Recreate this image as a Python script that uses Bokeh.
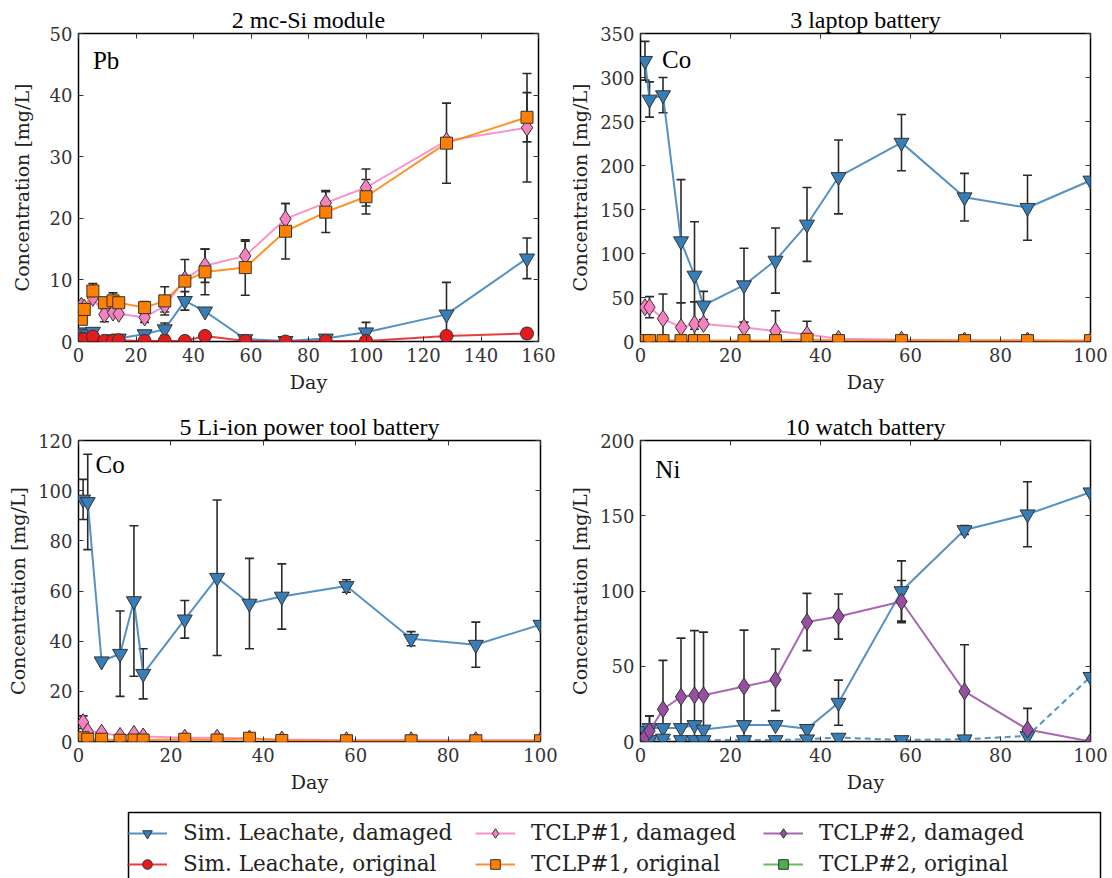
import numpy as np
from bokeh.plotting import figure
from bokeh.models import (ColumnDataSource, Whisker, TeeHead, Label, Legend, LegendItem,
                          LinearAxis, FixedTicker, Range1d, BoxAnnotation)
from bokeh.layouts import column, row
from bokeh.embed import file_html
from bokeh.resources import INLINE

# ---------------- data ----------------
days_long = [1, 2, 5, 9, 12, 14, 23, 30, 37, 44, 58, 72, 86, 100, 128, 156]
days = [1, 2, 5, 9, 12, 14, 23, 30, 37, 44, 58, 72, 86, 100]

# 2 mc-Si module, Pb
pb_sim_dmg = [1.5, 1.2, 1.6, 0.1, 0.4, 0.5, 1.2, 2.0, 6.6, 4.9, 0.4, 0.1, 0.5, 1.5, 4.4, 13.5]
pb_sim_dmg_err = [0, 0, 0, 0, 0, 0, 0, 1.0, 1.5, 0, 0, 0, 0, 1.6, 5.2, 3.3]
pb_sim_orig = [0.5, 0.4, 0.8, 0.1, 0.1, 0.2, 0.1, 0.1, 0.1, 0.9, 0.1, 0.0, 0.1, 0.1, 0.9, 1.3]
pb_sim_orig_err = [0, 0, 0, 0, 0, 0, 0, 0, 0, 0, 0, 0, 0, 0, 0.5, 0.8]
pb_tclp1_dmg = [5.8, 5.5, 7.1, 4.4, 4.7, 4.5, 3.9, 5.8, 10.1, 12.3, 13.9, 19.9, 22.5, 25.0, 32.6, 34.7]
pb_tclp1_dmg_err = [0, 0, 0, 1.2, 0, 0, 0.8, 1.0, 0, 2.7, 2.4, 2.5, 2.0, 3.0, 0, 8.8]
pb_tclp1_orig = [3.6, 5.2, 8.2, 6.3, 6.6, 6.3, 5.5, 6.6, 9.8, 11.3, 12.0, 17.9, 21.0, 23.5, 32.2, 36.4]
pb_tclp1_orig_err = [0, 0, 1.2, 0, 1.3, 0, 1.0, 2.3, 3.5, 3.7, 4.5, 4.5, 3.3, 2.8, 6.5, 4.0]

# 3 laptop battery, Co
co3_sim_dmg = [319, 275, 280, 114, 75, 41, 64, 92, 133, 187, 226, 164, 152, 183]
co3_sim_dmg_err = [22, 20, 20, 70, 61, 16, 42, 37, 42, 42, 32, 27, 37, 0]
co3_tclp1_dmg = [39, 39, 26, 16, 20, 20, 16, 12, 8, 3, 2, 1, 1, 0.5]
co3_tclp1_dmg_err = [0, 12, 28, 28, 25, 0, 0, 23, 15, 0, 0, 0, 0, 0]
co3_tclp1_orig = [1, 1, 1, 1, 1, 1, 1, 1, 2.5, 1, 1, 1, 1, 1]
co3_tclp1_orig_err = [0] * 14

# 5 Li-ion power tool battery, Co
co5_sim_dmg = [96.5, 95.5, 32.0, 35.0, 56.0, 27.0, 48.7, 65.3, 55.0, 57.8, 62.0, 41.0, 38.6, 46.6]
co5_sim_dmg_err = [8, 19, 0, 17, 30, 10, 7.5, 31, 18, 13, 2.5, 2.8, 9, 0]
co5_tclp1_dmg = [7.7, 4.0, 3.5, 2.2, 3.0, 2.0, 1.5, 1.5, 1.2, 0.8, 0.5, 0.5, 0.5, 0.5]
co5_tclp1_dmg_err = [2.5, 0, 0, 0, 0, 0, 0, 0, 0, 0, 0, 0, 0, 0]
co5_tclp1_orig = [1.5, 0.9, 0.9, 0.5, 0.6, 0.6, 0.9, 0.6, 1.3, 0.4, 0.3, 0.3, 0.3, 0.3]
co5_tclp1_orig_err = [0] * 14

# 10 watch battery, Ni
ni_sim_dmg = [7, 9, 9, 9, 11, 8, 11, 11, 8.4, 25.8, 100, 140.5, 151, 165.6]
ni_sim_dmg_err = [0, 8, 0, 0, 0, 0, 0, 0, 0, 15, 20, 3, 21.6, 0]
ni_sim_dmg_b = [1, 1, 2, 1, 1, 1, 1, 1, 1.5, 2.6, 1, 1.5, 3.7, 43]
ni_tclp2_dmg = [3, 7, 21.4, 29.7, 30.7, 30.7, 36.6, 41, 79.4, 83, 93, 33.3, 8, 0]
ni_tclp2_dmg_err = [0, 10, 32.5, 39, 43, 42, 37.4, 20.5, 19, 15, 14, 31, 14, 0]

LEGEND_NAMES = [
    ("sim_dmg", "Sim. Leachate, damaged"),
    ("sim_orig", "Sim. Leachate, original"),
    ("tclp1_dmg", "TCLP#1, damaged"),
    ("tclp1_orig", "TCLP#1, original"),
    ("tclp2_dmg", "TCLP#2, damaged"),
    ("tclp2_orig", "TCLP#2, original"),
]

# ---------------- styling ----------------
STYLE = {
    "sim_dmg": dict(color="#377eb8", marker="inverted_triangle", size=15),
    "sim_orig": dict(color="#e41a1c", marker="circle", size=13),
    "tclp1_dmg": dict(color="#f781bf", marker="diamond", size=17),
    "tclp1_orig": dict(color="#ff7f00", marker="square", size=12),
    "tclp2_dmg": dict(color="#984ea3", marker="diamond", size=17),
    "tclp2_orig": dict(color="#4daf4a", marker="square", size=12),
}

SERIF = "DejaVu Serif"
TIMES = "Liberation Serif"
TICK_COLOR = "#333333"


def make_panel(title, xmax, xstep, ymax, ystep, width, height, left, right, top, bottom,
               ylabel_standoff=6):
    p = figure(width=width, height=height, toolbar_location=None, output_backend="svg",
               x_range=Range1d(0, xmax), y_range=Range1d(0, ymax),
               min_border_left=left, min_border_right=right,
               min_border_top=top, min_border_bottom=bottom)
    p.title.text = title
    p.title.text_font = TIMES
    p.title.text_font_size = "24px"
    p.title.text_font_style = "normal"
    p.title.text_color = "black"
    p.title.align = "center"
    p.title.standoff = 2
    p.grid.visible = False
    p.outline_line_color = "black"
    p.outline_line_width = 1.5
    p.outline_line_alpha = 1.0
    p.background_fill_color = "white"
    p.border_fill_color = "white"

    xt = FixedTicker(ticks=list(range(0, xmax + 1, xstep)))
    yt = FixedTicker(ticks=list(range(0, ymax + 1, ystep)))
    bottom_ax = p.below[0]
    left_ax = p.left[0]
    bottom_ax.ticker = xt
    left_ax.ticker = yt
    bottom_ax.axis_label = "Day"
    left_ax.axis_label = "Concentration [mg/L]"

    # mirrored tick marks on the top and right edges of the frame
    top_ax = LinearAxis(ticker=xt)
    right_ax = LinearAxis(ticker=yt)
    p.add_layout(top_ax, "above")
    p.add_layout(right_ax, "right")
    for ax in (top_ax, right_ax):
        ax.major_label_text_font_size = "1px"
        ax.major_label_text_color = None
        ax.major_label_standoff = 0

    for ax in (bottom_ax, left_ax, top_ax, right_ax):
        ax.axis_line_color = None
        ax.major_tick_in = 5
        ax.major_tick_out = 0
        ax.major_tick_line_color = TICK_COLOR
        ax.major_tick_line_width = 1
        ax.minor_tick_line_color = None
    for ax in (bottom_ax, left_ax):
        ax.axis_label_text_font = SERIF
        ax.axis_label_text_font_style = "normal"
        ax.axis_label_text_font_size = "19px"
        ax.axis_label_text_color = "#222222"
        ax.axis_label_standoff = 6
        ax.major_label_text_font = SERIF
        ax.major_label_text_font_size = "18px"
        ax.major_label_text_color = TICK_COLOR
        ax.major_label_standoff = 6
    left_ax.axis_label_standoff = ylabel_standoff
    return p


def add_series(p, x, y, err, key, dash="solid"):
    st = STYLE[key]
    x = np.asarray(x, dtype=float)
    y = np.asarray(y, dtype=float)
    if err is not None:
        e = np.asarray(err, dtype=float)
        m = e > 0
        if m.any():
            src = ColumnDataSource(dict(x=x[m], lo=y[m] - e[m], hi=y[m] + e[m]))
            w = Whisker(base="x", lower="lo", upper="hi", source=src,
                        line_color="#2a2a2a", line_width=1.6,
                        upper_head=TeeHead(size=9, line_color="#2a2a2a", line_width=1.6),
                        lower_head=TeeHead(size=9, line_color="#2a2a2a", line_width=1.6))
            p.add_layout(w)
    p.line(x, y, line_color=st["color"], line_width=2, line_alpha=0.85, line_dash=dash)
    p.scatter(x, y, marker=st["marker"], size=st["size"], fill_color=st["color"],
              line_color="#333333", line_width=1)


def add_tag(p, x, y, text):
    p.add_layout(Label(x=x, y=y, text=text, text_font=TIMES, text_font_size="25px",
                       text_baseline="middle", text_color="black"))


# ---------------- panels ----------------
p1 = make_panel("2 mc-Si module", 160, 20, 50, 10, 560, 400, 78, 22, 33, 59,
                ylabel_standoff=14)
add_series(p1, days_long, pb_sim_dmg, pb_sim_dmg_err, "sim_dmg")
add_series(p1, days_long, pb_sim_orig, pb_sim_orig_err, "sim_orig")
add_series(p1, days_long, pb_tclp1_dmg, pb_tclp1_dmg_err, "tclp1_dmg")
add_series(p1, days_long, pb_tclp1_orig, pb_tclp1_orig_err, "tclp1_orig")
add_tag(p1, 5, 45.6, "Pb")

p2 = make_panel("3 laptop battery", 100, 20, 350, 50, 552, 400, 80, 22, 33, 59)
add_series(p2, days, co3_sim_dmg, co3_sim_dmg_err, "sim_dmg")
add_series(p2, days, co3_tclp1_dmg, co3_tclp1_dmg_err, "tclp1_dmg")
add_series(p2, days, co3_tclp1_orig, co3_tclp1_orig_err, "tclp1_orig")
add_tag(p2, 4.8, 321, "Co")

p3 = make_panel("5 Li-ion power tool battery", 100, 20, 120, 20, 560, 400, 78, 20, 40, 59)
add_series(p3, days, co5_sim_dmg, co5_sim_dmg_err, "sim_dmg")
add_series(p3, days, co5_tclp1_dmg, co5_tclp1_dmg_err, "tclp1_dmg")
add_series(p3, days, co5_tclp1_orig, co5_tclp1_orig_err, "tclp1_orig")
add_tag(p3, 3.7, 110.5, "Co")

p4 = make_panel("10 watch battery", 100, 20, 200, 50, 552, 400, 80, 22, 40, 59)
add_series(p4, days, ni_sim_dmg, ni_sim_dmg_err, "sim_dmg")
add_series(p4, days, ni_sim_dmg_b, None, "sim_dmg", dash="6 4")
add_series(p4, days, ni_tclp2_dmg, ni_tclp2_dmg_err, "tclp2_dmg")
add_tag(p4, 3.3, 181, "Ni")

# ---------------- shared legend ----------------
# the strip's data space equals its pixel space, so the frame box and legend
# columns can be placed directly
LG_W, LG_H = 1112, 78
lg = figure(width=LG_W, height=LG_H, toolbar_location=None, output_backend="svg",
            min_border=0, x_axis_location=None, y_axis_location=None,
            x_range=Range1d(0, LG_W), y_range=Range1d(0, LG_H))
lg.outline_line_color = None
lg.grid.visible = False
lg.add_layout(BoxAnnotation(left=128, right=1100, bottom=-20, top=66,
                            fill_color="white", fill_alpha=1.0,
                            line_color="black", line_alpha=1.0, line_width=1.5,
                            level="underlay"))
items = []
for key, name in LEGEND_NAMES:
    st = STYLE[key]
    # hidden renderers that only supply the legend glyphs
    r1 = lg.line(days_long, pb_sim_dmg, line_color=st["color"], line_width=2,
                 line_alpha=0.85, visible=False)
    r2 = lg.scatter(days_long, pb_sim_dmg, marker=st["marker"], size=st["size"] * 0.7,
                    fill_color=st["color"], line_color="#333333", line_width=1,
                    visible=False)
    items.append(LegendItem(label=name, renderers=[r1, r2]))

col_x = [127, 475, 763]
for i, x0 in enumerate(col_x):
    leg = Legend(items=items[2 * i:2 * i + 2], location=(x0, 2), orientation="vertical",
                 label_text_font=SERIF, label_text_font_size="21.5px",
                 label_text_color="#222222",
                 glyph_width=40, glyph_height=24, label_height=24, label_standoff=16,
                 spacing=6, padding=5, margin=0,
                 inactive_fill_alpha=0.0,
                 border_line_color=None, background_fill_alpha=0.0)
    lg.add_layout(leg)

layout = column(row(p1, p2), row(p3, p4), lg)

with open("out.html", "w") as f:
    f.write(file_html(layout, INLINE))
